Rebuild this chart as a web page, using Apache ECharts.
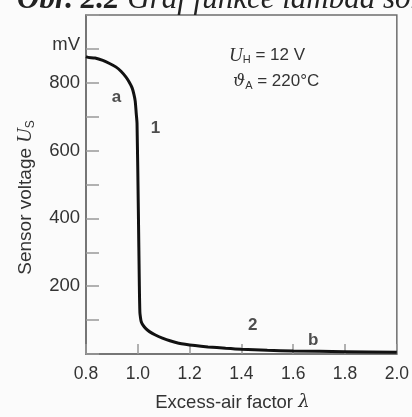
<!DOCTYPE html>
<html>
<head>
<meta charset="utf-8">
<script src="https://cdn.jsdelivr.net/npm/echarts@6/dist/echarts.min.js"></script>
<style>
  html, body { margin: 0; padding: 0; background: #fbfbfb; }
  #chart { width: 412px; height: 417px; }
</style>
</head>
<body>
<div id="chart"></div>
<script>
  // excess-air factor λ and sensor voltage (mV)
  const lambdaValues = [0.800, 0.808, 0.835, 0.865, 0.891, 0.915, 0.935, 0.953, 0.966, 0.978, 0.985, 0.990, 0.994, 0.997, 1.002, 1.006, 1.008, 1.010, 1.013, 1.020, 1.032, 1.045, 1.068, 1.095, 1.124, 1.158, 1.221, 1.271, 1.339, 1.40, 1.50, 1.60, 1.80, 2.00]
  const voltageValues = [877, 875, 873, 866, 857, 847, 834, 818, 803, 785, 766, 746, 709, 680, 430, 200, 123, 109, 96, 85, 74, 66, 56, 47, 39, 32, 25, 21, 17, 14, 11, 9, 7, 5]

  // curve annotations: label, λ, mV
  const noteLabels = ['a', '1', '2', 'b']
  const noteLambda = [0.918, 1.068, 1.444, 1.677]
  const noteVoltage = [757, 666, 86, 40]

  const yLabelValues = [200, 400, 600, 800]

  const chart = echarts.init(document.getElementById('chart'))
  const sans = 'Liberation Sans, Arial, sans-serif'

  chart.setOption({
    backgroundColor: '#fbfbfb',
    animation: false,
    grid: {
      left: 86, right: 6, top: 15, bottom: 54,
      show: true, borderColor: '#6e6e6e', borderWidth: 1.5
    },
    xAxis: {
      type: 'value',
      min: 0.8, max: 2.0, interval: 0.2,
      name: 'Excess-air factor {i|λ}',
      nameLocation: 'middle',
      nameGap: 39,
      nameTextStyle: {
        color: '#333', fontSize: 18.5, fontFamily: sans, padding: [0, 18, 0, 0],
        rich: { i: { fontStyle: 'italic', fontSize: 18, fontFamily: 'DejaVu Serif', color: '#333' } }
      },
      axisLine: { lineStyle: { color: '#6e6e6e', width: 1.5 } },
      axisTick: { inside: true, length: 10, lineStyle: { color: '#999', width: 1.5 } },
      axisLabel: { color: '#333', fontSize: 17.5, fontFamily: sans, margin: 11, formatter: v => v.toFixed(1) },
      splitLine: { show: false }
    },
    yAxis: {
      type: 'value',
      min: 0, max: 1000, interval: 100,
      name: 'Sensor voltage {i|U}{s|S}',
      nameLocation: 'middle',
      nameGap: 49,
      nameTextStyle: {
        color: '#333', fontSize: 19, fontFamily: sans, padding: [0, 26, 0, 0],
        rich: {
          i: { fontStyle: 'italic', fontSize: 20, fontFamily: 'Liberation Serif', color: '#333' },
          s: { fontSize: 12, fontFamily: sans, color: '#333', padding: [10, 0, 0, 0] }
        }
      },
      axisLine: { show: true, lineStyle: { color: '#6e6e6e', width: 1.5 } },
      axisTick: { inside: true, length: 13, lineStyle: { color: '#999', width: 1.5 } },
      axisLabel: {
        color: '#333', fontSize: 18.5, fontFamily: sans, margin: 6,
        formatter: v => v === 900 ? '{m|mV}' : (yLabelValues.includes(v) ? String(v) : ''),
        rich: { m: { fontSize: 18.5, fontFamily: sans, color: '#333', padding: [0, 0, 8, 0] } }
      },
      splitLine: { show: false }
    },
    series: [
      {
        type: 'line',
        data: lambdaValues.map((x, i) => [x, voltageValues[i]]),
        smooth: 0.25,
        showSymbol: false,
        lineStyle: { color: '#111', width: 3 }
      },
      {
        type: 'scatter',
        symbolSize: 0,
        data: noteLabels.map((t, i) => ({ value: [noteLambda[i], noteVoltage[i]], name: t })),
        label: {
          show: true, position: 'inside', formatter: p => p.name,
          color: '#222', fontSize: 17, fontWeight: 'bold', fontFamily: sans
        }
      }
    ],
    graphic: [
      {
        type: 'text', left: 17, top: -16,
        style: {
          text: '{b|Obr. 2.2} Graf funkce lambda sondy',
          font: 'italic 31px "Liberation Serif"',
          fill: '#222',
          rich: { b: { fontWeight: 'bold', fontStyle: 'italic', fontSize: 31, fontFamily: 'Liberation Serif', color: '#222' } }
        }
      },
      {
        type: 'text', left: 229, top: 46,
        style: {
          text: '{i|U}{s|H} = 12 V',
          font: '17px "Liberation Sans"',
          fill: '#333',
          rich: {
            i: { fontStyle: 'italic', fontSize: 19, fontFamily: 'Liberation Serif', color: '#333' },
            s: { fontSize: 11, fontFamily: sans, color: '#333', padding: [9, 0, 0, 0] }
          }
        }
      },
      {
        type: 'text', left: 233, top: 73,
        style: {
          text: '{i|ϑ}{s|A} = 220°C',
          font: '17px "Liberation Sans"',
          fill: '#333',
          rich: {
            i: { fontStyle: 'italic', fontSize: 17, fontFamily: 'DejaVu Serif', color: '#333' },
            s: { fontSize: 11, fontFamily: sans, color: '#333', padding: [9, 0, 0, 0] }
          }
        }
      }
    ]
  })
</script>
</body>
</html>
